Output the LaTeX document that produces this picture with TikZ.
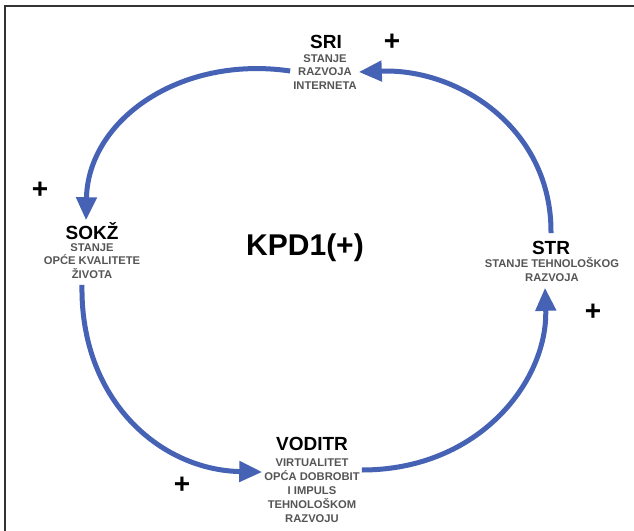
\documentclass[tikz,border=0pt]{standalone}
\usepackage{fontspec}
\setmainfont{Liberation Sans}
\usetikzlibrary{arrows.meta}
\definecolor{arrowblue}{HTML}{4662B4}
\definecolor{desctext}{HTML}{555555}
\tikzset{
  title/.style={font=\bfseries\fontsize{19}{21}\selectfont, inner sep=0pt, anchor=center},
  desc/.style={font=\bfseries\fontsize{11.2}{13.8}\selectfont, text=desctext, align=center, inner sep=0pt, anchor=north},
  plus/.style={font=\bfseries\fontsize{28}{28}\selectfont, inner sep=0pt},
  flow/.style={draw=arrowblue, line width=5pt, -{Triangle[length=23pt,width=20pt]}},
}
\begin{document}
\begin{tikzpicture}[x=1pt,y=-1pt]
\useasboundingbox (0,0) rectangle (634,530);
\fill[white] (0,0) rectangle (634,530);
\draw[line width=2pt, draw=black!80] (5,540) -- (5,6) -- (640,6);
% nodes
\node[title] (sri) at (326,42) {SRI};
\node[desc] (srid) at (325,54) {STANJE\\RAZVOJA\\INTERNETA};
\node[title] (sokz) at (92,231) {SOKŽ};
\node[desc] (sokzd) at (92,243) {STANJE\\OPĆE KVALITETE\\ŽIVOTA};
\node[title] (voditr) at (312,444) {VODITR};
\node[desc] (voditrd) at (312,459) {VIRTUALITET\\OPĆA DOBROBIT\\I IMPULS\\TEHNOLOŠKOM\\RAZVOJU};
\node[title] (str) at (551,248) {STR};
\node[desc] (strd) at (552,257.5) {STANJE TEHNOLOŠKOG\\RAZVOJA};
\node[font=\bfseries\fontsize{30}{32}\selectfont, inner sep=0pt] (kpd) at (305,248) {KPD1(+)};
% plus signs
\node[plus] (p1) at (392,42) {+};
\node[plus] (p2) at (40,190) {+};
\node[plus] (p3) at (182,485) {+};
\node[plus] (p4) at (593,312) {+};
% arrows
\coordinate (a1s) at ([yshift=8pt]str.north);
\coordinate (a1e) at ([xshift=2pt]srid.east |- 0,72);
\draw[flow] (a1s) .. controls (552,130) and (460,68) .. (a1e);
\coordinate (a2s) at ([xshift=-3pt]srid.west |- 0,71);
\coordinate (a2e) at ([xshift=-6pt,yshift=2pt]sokz.north);
\draw[flow] (a2s) .. controls (180,55) and (88,120) .. (a2e);
\coordinate (a3s) at ([xshift=-10pt,yshift=-6pt]sokzd.south);
\coordinate (a3e) at ([xshift=-2pt]voditrd.west |- 0,472);
\draw[flow] (a3s) .. controls (80,400) and (160,470) .. (a3e);
\coordinate (a4s) at ([xshift=2pt]voditrd.east |- 0,470);
\coordinate (a4e) at ([xshift=-7pt,yshift=-6pt]strd.south);
\draw[flow] (a4s) .. controls (480,470) and (548,380) .. (a4e);
\end{tikzpicture}
\end{document}
